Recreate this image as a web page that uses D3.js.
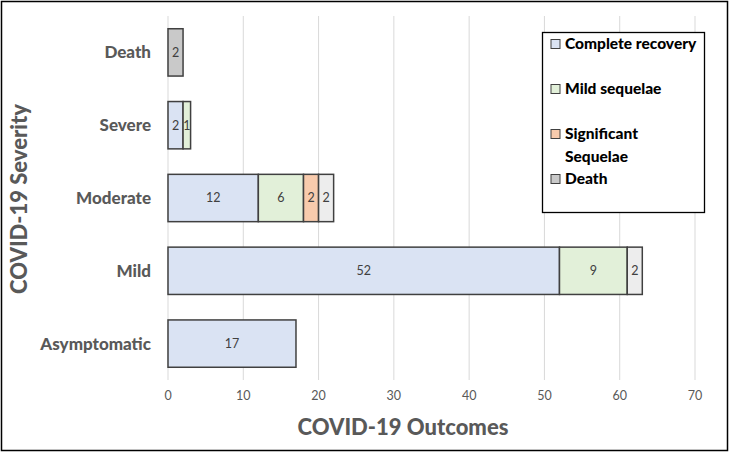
<!DOCTYPE html>
<html><head><meta charset="utf-8">
<script src="https://cdn.jsdelivr.net/npm/d3@7"></script>
<style>body{margin:0;background:#fff}svg{display:block}</style>
</head><body>
<script>
const categories = ["Death", "Severe", "Moderate", "Mild", "Asymptomatic"];
const seriesNames = ["Complete recovery", "Mild sequelae", "Significant Sequelae", "Death", "Other"];
const completeRecovery = [0, 2, 12, 52, 17];
const mildSequelae = [0, 1, 6, 9, 0];
const significantSequelae = [0, 0, 2, 0, 0];
const death = [2, 0, 0, 0, 0];
const other = [0, 0, 2, 2, 0];
const legendNames = ["Complete recovery", "Mild sequelae", "Significant Sequelae", "Death"];
const xTicks = [0, 10, 20, 30, 40, 50, 60, 70];
const colors = ["#dae3f3", "#e2f0d9", "#f8cbad", "#c9c9c9", "#ededed"];

const W = 731, H = 454;
const svg = d3.select("body").append("svg").attr("width", W).attr("height", H);
const font = "Lato, 'Open Sans', sans-serif";

svg.append("rect").attr("x", 1.5).attr("y", 1.5).attr("width", 726).attr("height", 449)
  .attr("fill", "#fff").attr("stroke", "#000").attr("stroke-width", 1.5);

const x = d3.scaleLinear().domain([0, 70]).range([168, 695]);
const y = d3.scaleBand().domain(categories).range([16, 380]).paddingInner(0.35).paddingOuter(0.175);

// gridlines
svg.append("g").selectAll("line").data(xTicks).join("line")
  .attr("x1", d => x(d)).attr("x2", d => x(d)).attr("y1", 16).attr("y2", 380)
  .attr("stroke", "#d9d9d9").attr("stroke-width", 1);

// tick labels
svg.append("g").selectAll("text").data(xTicks).join("text")
  .attr("x", d => x(d)).attr("y", 400).attr("text-anchor", "middle")
  .attr("font-family", font).attr("font-size", 12.5).attr("fill", "#595959").text(d => d);

const seriesArrays = [completeRecovery, mildSequelae, significantSequelae, death, other];
const rows = categories.map((c, i) => {
  const o = { cat: c };
  seriesNames.forEach((s, j) => o[s] = seriesArrays[j][i]);
  return o;
});
const stack = d3.stack().keys(seriesNames)(rows);

const g = svg.append("g");
stack.forEach((layer, j) => {
  layer.forEach(d => {
    const v = d[1] - d[0];
    if (!v) return;
    const cat = d.data.cat;
    g.append("rect").attr("x", x(d[0])).attr("y", y(cat))
      .attr("width", x(d[1]) - x(d[0])).attr("height", y.bandwidth())
      .attr("fill", colors[j]).attr("stroke", "#404040").attr("stroke-width", 1.5);
    g.append("text").attr("x", (x(d[0]) + x(d[1])) / 2).attr("y", y(cat) + y.bandwidth() / 2)
      .attr("dy", "0.35em").attr("text-anchor", "middle")
      .attr("font-family", font).attr("font-size", 12.5).attr("fill", "#404040").text(v);
  });
});

// category labels
svg.append("g").selectAll("text").data(categories).join("text")
  .attr("x", 151).attr("y", d => y(d) + y.bandwidth() / 2).attr("dy", "0.35em")
  .attr("text-anchor", "end").attr("font-family", font).attr("font-weight", 900)
  .attr("font-size", 17).attr("fill", "#595959").text(d => d);

// axis titles
svg.append("text").attr("transform", "translate(27,199) rotate(-90)")
  .attr("text-anchor", "middle").attr("font-family", font).attr("font-weight", 900)
  .attr("font-size", 22).attr("fill", "#595959").text("COVID-19 Severity");
svg.append("text").attr("x", 403).attr("y", 435)
  .attr("text-anchor", "middle").attr("font-family", font).attr("font-weight", 900)
  .attr("font-size", 22).attr("fill", "#595959").text("COVID-19 Outcomes");

// legend
const lg = svg.append("g");
lg.append("rect").attr("x", 542.5).attr("y", 32.5).attr("width", 162).attr("height", 180)
  .attr("fill", "#fff").attr("stroke", "#000").attr("stroke-width", 1.3);
const legendY = [44, 89, 134, 179];
legendNames.forEach((n, i) => {
  const j = seriesNames.indexOf(n);
  lg.append("rect").attr("x", 551).attr("y", legendY[i] - 4.5).attr("width", 9).attr("height", 9)
    .attr("fill", colors[j]).attr("stroke", "#404040").attr("stroke-width", 1);
  const t = lg.append("text").attr("x", 565).attr("y", legendY[i]).attr("dy", "0.35em")
    .attr("font-family", font).attr("font-weight", 900).attr("font-size", 15.5).attr("fill", "#000");
  if (n === "Significant Sequelae") {
    t.append("tspan").attr("x", 565).text("Significant");
    t.append("tspan").attr("x", 565).attr("dy", "1.45em").text("Sequelae");
  } else t.text(n);
});
</script>
</body></html>
